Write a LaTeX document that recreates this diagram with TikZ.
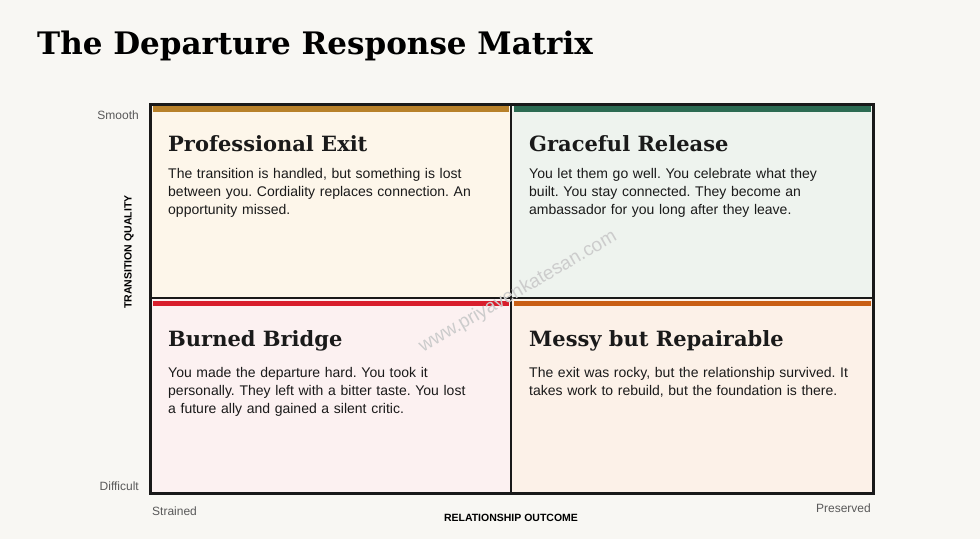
\documentclass[tikz,border=0pt]{standalone}
\usepackage{fontspec}
\setmainfont{Liberation Sans}
\newfontfamily\headfont{DejaVu Serif}
\usepackage{tikz}
\usetikzlibrary{positioning}
\definecolor{pagebg}{HTML}{F8F7F3}
\definecolor{peOrange}{HTML}{B8812A}
\definecolor{peFill}{HTML}{FDF6EA}
\definecolor{grGreen}{HTML}{2C6B52}
\definecolor{grFill}{HTML}{EEF3EE}
\definecolor{bbRed}{HTML}{D81E2C}
\definecolor{bbFill}{HTML}{FCF1F1}
\definecolor{mrOrange}{HTML}{C85E14}
\definecolor{mrFill}{HTML}{FCF1E8}
\definecolor{inktext}{HTML}{1A1A1A}
\frenchspacing
\newcommand\bodytext{\hyphenpenalty=10000\relax\fontsize{14}{18}\selectfont}

\begin{document}
\begin{tikzpicture}[x=1pt,y=-1pt,
    qtitle/.style={anchor=north west,inner sep=0pt,font=\headfont\bfseries\fontsize{21}{24}\selectfont,text=inktext},
    qbody/.style={anchor=north west,inner sep=0pt,text width=306pt,align=left,font=\bodytext,text=inktext},
    axlab/.style={inner sep=0pt,font=\fontsize{12}{14}\selectfont,text=black!65}]

    \fill[pagebg] (0,0) rectangle (980,539);
    \useasboundingbox (0,0) rectangle (980,539);

    \node[anchor=base west,inner sep=0pt,font=\headfont\bfseries\fontsize{31}{36}\selectfont,text=black] (title) at (37,54) {The Departure Response Matrix};

    % quadrants
    \fill[peFill] (150,104) rectangle (511,298);
    \fill[grFill] (511,104) rectangle (873,298);
    \fill[bbFill] (150,298) rectangle (511,493);
    \fill[mrFill] (511,298) rectangle (873,493);
    \fill[peOrange] (153,106) rectangle (509,112);
    \fill[grGreen] (514,106) rectangle (871,112);
    \fill[bbRed] (153,301) rectangle (509,306);
    \fill[mrOrange] (514,301) rectangle (871,306);
    \draw[line width=3pt,black!90] (150,104) rectangle (873,493);
    \draw[line width=2pt,black!90] (511,104) -- (511,493);
    \draw[line width=2pt,black!90] (150,298) -- (873,298);

    % watermark
    \node[rotate=30,font=\fontsize{19}{20}\selectfont,text=black!20] (mark) at (518,292) {www.priyavenkatesan.com};

    \node[qtitle] (pe) at (168,135) {Professional Exit};
    \node[qbody,below=16pt of pe.south west,anchor=north west] (peText) {The transition is handled, but something is lost between you. Cordiality replaces connection. An opportunity missed.};
    \node[qtitle] (gr) at (529,135) {Graceful Release};
    \node[qbody,below=16pt of gr.south west,anchor=north west] (grText) {You let them go well. You celebrate what they built. You stay connected. They become an ambassador for you long after they leave.};
    \node[qtitle] (bb) at (168,330) {Burned Bridge};
    \node[qbody,below=16pt of bb.south west,anchor=north west] (bbText) {You made the departure hard. You took it personally. They left with a bitter taste. You lost a future ally and gained a silent critic.};
    \node[qtitle] (mr) at (529,330) {Messy but Repairable};
    \node[qbody,text width=320pt,below=16pt of mr.south west,anchor=north west] (mrText) {The exit was rocky, but the relationship survived. It takes work to rebuild, but the foundation is there.};

    % axes
    \node[axlab,anchor=east] (smooth) at (139,115) {Smooth};
    \node[axlab,anchor=east] (difficult) at (139,486) {Difficult};
    \node[axlab,anchor=west] (strained) at (152,511) {Strained};
    \node[axlab,anchor=east] (preserved) at (871,508) {Preserved};
    \node[inner sep=0pt,font=\bfseries\fontsize{10.5}{12}\selectfont,rotate=90] (yaxis) at (129,252) {TRANSITION QUALITY};
    \node[inner sep=0pt,font=\bfseries\fontsize{10.5}{12}\selectfont] (xaxis) at (511,518) {RELATIONSHIP OUTCOME};
\end{tikzpicture}
\end{document}
